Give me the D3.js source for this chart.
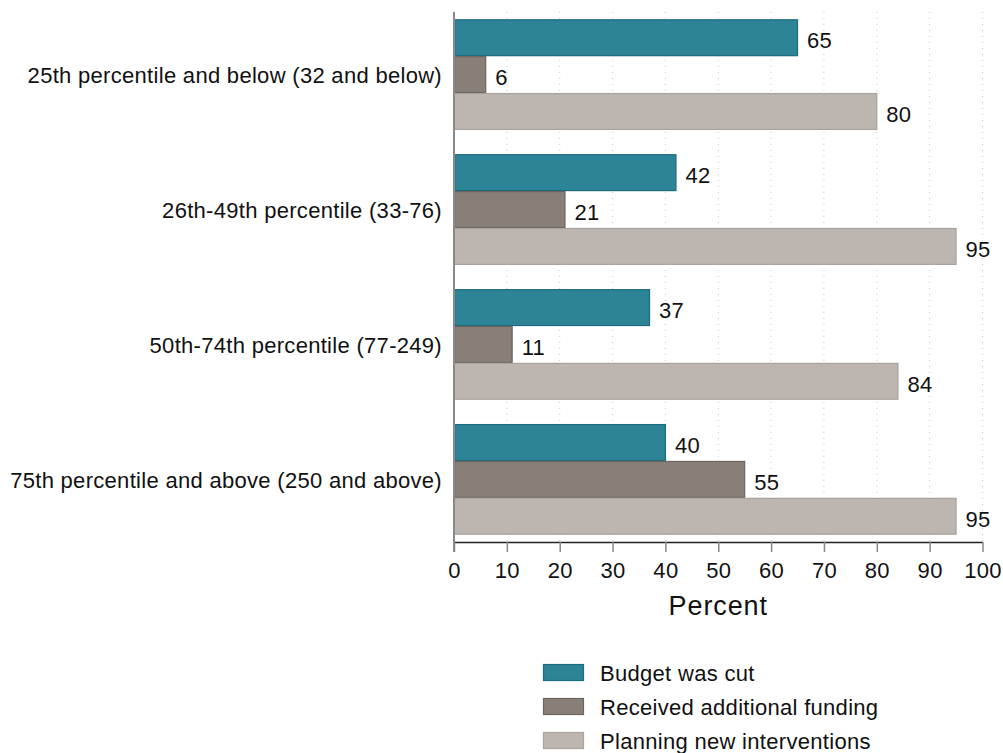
<!DOCTYPE html>
<html>
<head>
<meta charset="utf-8">
<script src="https://cdn.jsdelivr.net/npm/d3@7"></script>
<style>
  html, body { margin: 0; padding: 0; background: #fff; }
  svg { display: block; }
  text { font-family: "Liberation Sans", Arial, Helvetica, sans-serif; fill: #111; letter-spacing: 0.3px; }
</style>
</head>
<body>
<svg id="chart" width="1003" height="753"></svg>
<script>
const categories = [
  "25th percentile and below (32 and below)",
  "26th-49th percentile (33-76)",
  "50th-74th percentile (77-249)",
  "75th percentile and above (250 and above)"
];
const seriesNames = ["Budget was cut", "Received additional funding", "Planning new interventions"];
const budgetCut = [65, 42, 37, 40];
const additionalFunding = [6, 21, 11, 55];
const planningNew = [80, 95, 84, 95];
const xTicks = [0, 10, 20, 30, 40, 50, 60, 70, 80, 90, 100];
const axisTitle = "Percent";

const seriesValues = [budgetCut, additionalFunding, planningNew];
const fills = ["#2e8497", "#887f78", "#bdb5af"];
const strokes = ["#1d6b7e", "#6d645d", "#aaa29c"];

const svg = d3.select("#chart");
const pLeft = 454, pRight = 982.5, pTop = 12, pBottom = 542;
const fs = 22;

const x = d3.scaleLinear().domain([0, 100]).range([pLeft, pRight]);
const y = d3.scaleBand().domain(categories).range([pTop, pBottom]).paddingInner(0.18).paddingOuter(0.054);
const ySub = d3.scaleBand().domain(seriesNames).range([0, y.bandwidth()]);

// gridlines
svg.append("g").selectAll("line").data(xTicks.filter(d => d > 0)).join("line")
  .attr("x1", d => x(d)).attr("x2", d => x(d))
  .attr("y1", pTop).attr("y2", pBottom)
  .attr("stroke", "#c8c8c8").attr("stroke-width", 1)
  .attr("stroke-dasharray", "1,5");

// bars
const groups = svg.append("g").selectAll("g").data(categories).join("g")
  .attr("transform", c => `translate(0,${y(c)})`);

groups.each(function(c, ci) {
  const g = d3.select(this);
  seriesNames.forEach((s, si) => {
    const v = seriesValues[si][ci];
    g.append("rect")
      .attr("x", x(0) + 0.5)
      .attr("y", ySub(s) + 0.5)
      .attr("width", x(v) - x(0) - 0.5)
      .attr("height", ySub.bandwidth() - 1)
      .attr("fill", fills[si])
      .attr("stroke", strokes[si])
      .attr("stroke-width", 1.2);
    g.append("text")
      .attr("x", x(v) + 9.5)
      .attr("y", ySub(s) + ySub.bandwidth() / 2)
      .attr("dy", "0.47em")
      .attr("font-size", fs)
      .text(v);
  });
});

// category labels
svg.append("g").selectAll("text").data(categories).join("text")
  .attr("x", pLeft - 12)
  .attr("y", c => y(c) + y.bandwidth() / 2)
  .attr("dy", "0.40em")
  .attr("text-anchor", "end")
  .attr("font-size", fs)
  .text(c => c);

// y axis line
svg.append("line")
  .attr("x1", pLeft).attr("x2", pLeft)
  .attr("y1", pTop).attr("y2", pBottom + 10)
  .attr("stroke", "#8a8a8a").attr("stroke-width", 2);

// x axis
const xAxis = svg.append("g").attr("transform", `translate(0,${pBottom})`)
  .call(d3.axisBottom(x).tickValues(xTicks).tickSize(10).tickPadding(10).tickSizeOuter(0));
xAxis.select(".domain").attr("stroke", "#222").attr("stroke-width", 1.6);
xAxis.selectAll(".tick line").attr("stroke", "#888").attr("stroke-width", 1.5);
xAxis.selectAll(".tick text").attr("font-size", fs)
  .attr("font-family", "'Liberation Sans', Arial, sans-serif").attr("fill", "#111");

svg.append("text")
  .attr("x", (pLeft + pRight) / 2)
  .attr("y", 615)
  .attr("text-anchor", "middle")
  .attr("font-size", 27)
  .style("letter-spacing", "0.9px")
  .text(axisTitle);

// legend
const legend = svg.append("g").selectAll("g").data(seriesNames).join("g")
  .attr("transform", (d, i) => `translate(543,${664 + i * 34})`);
legend.append("rect")
  .attr("x", 0.5).attr("y", 0.5).attr("width", 40).attr("height", 16)
  .attr("fill", (d, i) => fills[i]).attr("stroke", (d, i) => strokes[i]).attr("stroke-width", 1.2);
legend.append("text")
  .attr("x", 57).attr("y", 8.5).attr("dy", "0.38em")
  .attr("font-size", fs)
  .text(d => d);
</script>
</body>
</html>
